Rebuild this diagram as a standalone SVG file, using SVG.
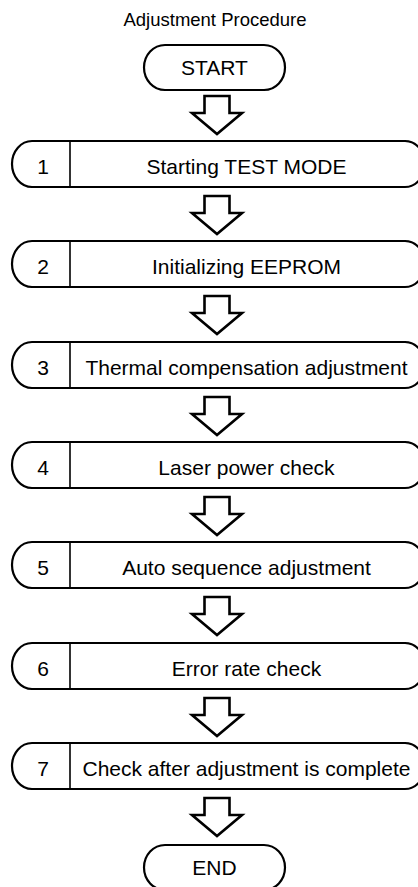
<svg xmlns="http://www.w3.org/2000/svg" width="418" height="887" viewBox="0 0 418 887">
  <style>
    .shape { fill: #ffffff; stroke: #000000; stroke-width: 2.2; }
    .div { stroke: #000000; stroke-width: 1.6; }
    .arrow { fill: #ffffff; stroke: #000000; stroke-width: 2.6; stroke-linejoin: miter; }
    text { font-family: "Liberation Sans", Arial, sans-serif; fill: #000000; }
    .title { font-size: 18.5px; }
    .lbl { font-size: 21px; }
  </style>
  <defs>
    <!-- step box: rounded left end, number cell, label cell running off to the right -->
    <path id="stepBox" d="M 32 0 H 405 A 20 23 0 0 1 405 46 H 32 A 20 23 0 0 1 32 0 Z"/>
    <!-- terminator (START / END) -->
    <path id="term" d="M 165 0 H 264 A 21 22.5 0 0 1 264 45 H 165 A 21 22.5 0 0 1 165 0 Z"/>
    <!-- hollow down arrow -->
    <polygon id="downArrow" points="204.5,0 229.5,0 229.5,17 242,17 217,38 192,17 204.5,17"/>
  </defs>

  <text class="title" x="215" y="26" text-anchor="middle">Adjustment Procedure</text>

  <g id="start">
    <use href="#term" class="shape" y="45"/>
    <text class="lbl" x="214.5" y="75" text-anchor="middle">START</text>
  </g>

  <g id="step1">
    <use href="#stepBox" class="shape" y="141"/>
    <line class="div" x1="70" y1="141" x2="70" y2="187"/>
    <text class="lbl" x="43" y="174" text-anchor="middle">1</text>
    <text class="lbl" x="246.5" y="174" text-anchor="middle">Starting TEST MODE</text>
  </g>

  <g id="step2">
    <use href="#stepBox" class="shape" y="241"/>
    <line class="div" x1="70" y1="241" x2="70" y2="287"/>
    <text class="lbl" x="43" y="274" text-anchor="middle">2</text>
    <text class="lbl" x="246.5" y="274" text-anchor="middle">Initializing EEPROM</text>
  </g>

  <g id="step3">
    <use href="#stepBox" class="shape" y="342"/>
    <line class="div" x1="70" y1="342" x2="70" y2="388"/>
    <text class="lbl" x="43" y="375" text-anchor="middle">3</text>
    <text class="lbl" x="246.5" y="375" text-anchor="middle">Thermal compensation adjustment</text>
  </g>

  <g id="step4">
    <use href="#stepBox" class="shape" y="442"/>
    <line class="div" x1="70" y1="442" x2="70" y2="488"/>
    <text class="lbl" x="43" y="475" text-anchor="middle">4</text>
    <text class="lbl" x="246.5" y="475" text-anchor="middle">Laser power check</text>
  </g>

  <g id="step5">
    <use href="#stepBox" class="shape" y="542"/>
    <line class="div" x1="70" y1="542" x2="70" y2="588"/>
    <text class="lbl" x="43" y="575" text-anchor="middle">5</text>
    <text class="lbl" x="246.5" y="575" text-anchor="middle">Auto sequence adjustment</text>
  </g>

  <g id="step6">
    <use href="#stepBox" class="shape" y="643"/>
    <line class="div" x1="70" y1="643" x2="70" y2="689"/>
    <text class="lbl" x="43" y="676" text-anchor="middle">6</text>
    <text class="lbl" x="246.5" y="676" text-anchor="middle">Error rate check</text>
  </g>

  <g id="step7">
    <use href="#stepBox" class="shape" y="743"/>
    <line class="div" x1="70" y1="743" x2="70" y2="789"/>
    <text class="lbl" x="43" y="776" text-anchor="middle">7</text>
    <text class="lbl" x="246.5" y="776" text-anchor="middle">Check after adjustment is complete</text>
  </g>

  <g id="end">
    <use href="#term" class="shape" y="845"/>
    <text class="lbl" x="214.5" y="875" text-anchor="middle">END</text>
  </g>

  <g id="connectors">
    <use href="#downArrow" class="arrow" y="96"/>
    <use href="#downArrow" class="arrow" y="196"/>
    <use href="#downArrow" class="arrow" y="296"/>
    <use href="#downArrow" class="arrow" y="397"/>
    <use href="#downArrow" class="arrow" y="497"/>
    <use href="#downArrow" class="arrow" y="597"/>
    <use href="#downArrow" class="arrow" y="698"/>
    <use href="#downArrow" class="arrow" y="798"/>
  </g>
</svg>
